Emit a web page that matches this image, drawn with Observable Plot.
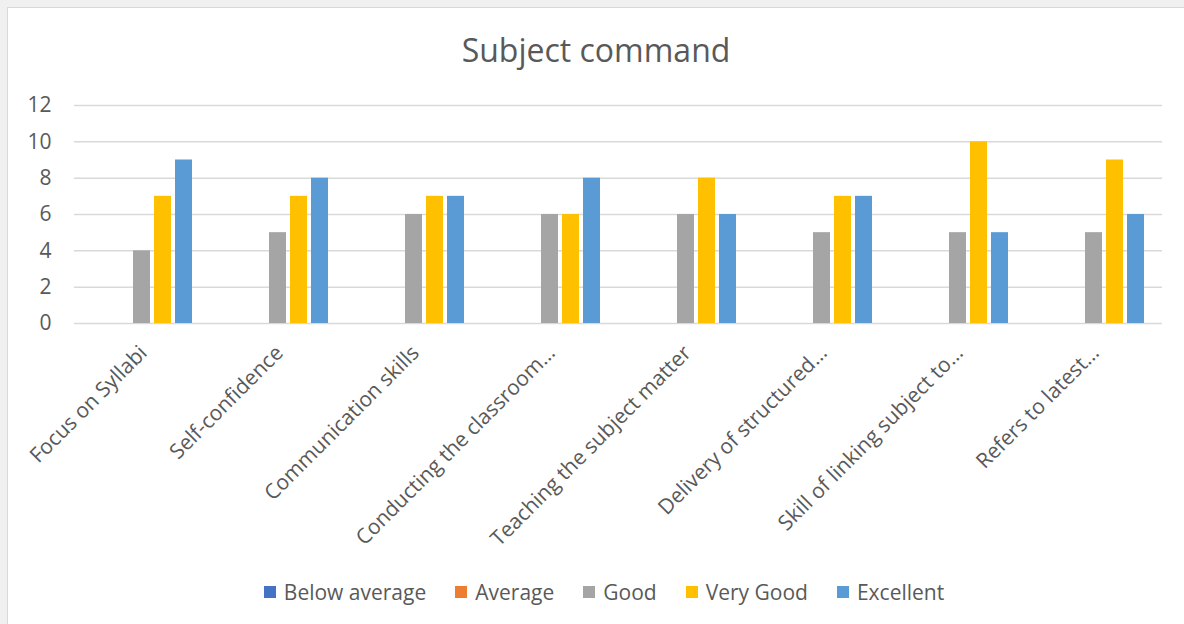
<!DOCTYPE html>
<html><head><meta charset="utf-8">
<script src="https://cdn.jsdelivr.net/npm/d3@7"></script>
<script src="https://cdn.jsdelivr.net/npm/@observablehq/plot@0.6"></script>
<style>
html,body{margin:0;padding:0;background:#f0f0f0;width:1184px;height:624px;overflow:hidden;font-family:"Open Sans",sans-serif;color:#595959}
#card{position:absolute;left:7px;top:7px;width:1177px;height:617px;background:#fff;border-left:1px solid #d9d9d9;border-top:1px solid #d9d9d9;}
#title{position:absolute;left:8px;top:28px;width:1176px;text-align:center;font-size:32px;line-height:44px;}
#chart{position:absolute;left:0;top:80px;}
#legend{position:absolute;left:8px;top:577px;width:1192px;display:flex;justify-content:center;gap:29px;font-size:21px;line-height:30px;}
#legend .item{display:flex;align-items:center;}
#legend .sw{width:12px;height:12px;margin-right:8px;}
</style>
</head><body>
<div id="card"></div>
<div id="title">Subject command</div>
<div id="chart"></div>
<div id="legend"></div>
<script>
const categories = ["Focus on Syllabi","Self-confidence","Communication skills","Conducting the classroom…","Teaching the subject matter","Delivery of structured…","Skill of linking subject to…","Refers to latest…"];
const seriesNames = ["Below average","Average","Good","Very Good","Excellent"];
const seriesColors = ["#4472c4","#ed7d31","#a5a5a5","#ffc000","#5b9bd5"];
const belowAverage = [0,0,0,0,0,0,0,0];
const average = [0,0,0,0,0,0,0,0];
const good = [4,5,6,6,6,5,5,5];
const veryGood = [7,7,7,6,8,7,10,9];
const excellent = [9,8,7,8,6,7,5,6];
const yTicks = [0,2,4,6,8,10,12];

const seriesValues = [belowAverage, average, good, veryGood, excellent];
const data = [];
categories.forEach((c, i) => {
  seriesNames.forEach((s, j) => data.push({category: c, series: s, value: seriesValues[j][i]}));
});

const chart = Plot.plot({
  width: 1184,
  height: 480,
  marginLeft: 73,
  marginRight: 22,
  marginTop: 25,
  marginBottom: 237,
  style: {fontFamily: "Open Sans, sans-serif", color: "#595959", background: "transparent"},
  fx: {domain: categories, padding: 0, axis: null},
  x: {domain: seriesNames, paddingInner: 0.19, paddingOuter: 0.83, axis: null},
  y: {domain: [0, 12], axis: null},
  color: {domain: seriesNames, range: seriesColors},
  marks: [
    Plot.gridY(yTicks, {stroke: "#d9d9d9", strokeOpacity: 1, strokeWidth: 1.5}),
    Plot.rectY(data, {fx: "category", x: "series", y: "value", fill: "series"}),
    Plot.axisY(yTicks, {tickSize: 0, tickPadding: 23, fontSize: 21, label: null, tickFormat: d => d}),
    Plot.axisFx({anchor: "bottom", tickRotate: -45, tickSize: 0, tickPadding: 26, dx: 1, fontSize: 21, label: null})
  ]
});
document.getElementById("chart").appendChild(chart);

const legend = document.getElementById("legend");
seriesNames.forEach((s, j) => {
  const item = document.createElement("div");
  item.className = "item";
  const sw = document.createElement("div");
  sw.className = "sw";
  sw.style.background = seriesColors[j];
  const t = document.createElement("span");
  t.textContent = s;
  item.appendChild(sw); item.appendChild(t);
  legend.appendChild(item);
});
</script>
</body></html>
